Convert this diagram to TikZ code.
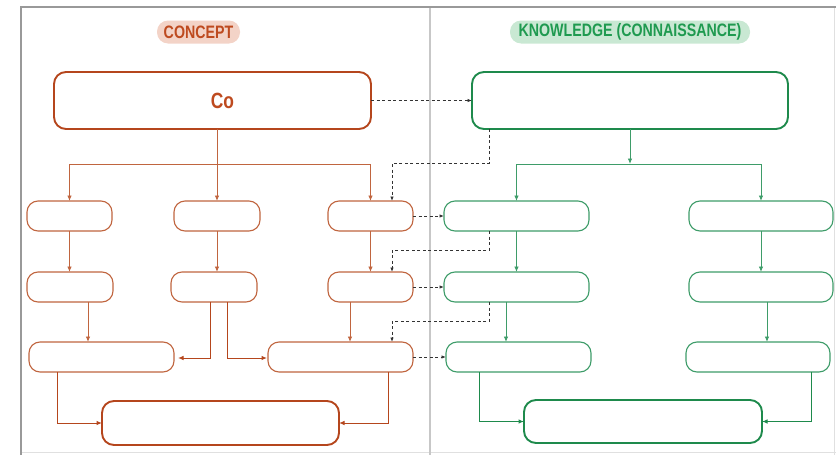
\documentclass[tikz,border=0pt]{standalone}
\usepackage{fontspec}
\newfontfamily\cnd[FakeStretch=0.79]{Liberation Sans}
\usetikzlibrary{arrows.meta}
\definecolor{cdark}{HTML}{B5461D}
\definecolor{cline}{HTML}{C0653F}
\definecolor{cpill}{HTML}{F3D3C7}
\definecolor{ctext}{HTML}{BE4A1F}
\definecolor{kdark}{HTML}{1E8A4C}
\definecolor{kline}{HTML}{3E9C69}
\definecolor{kpill}{HTML}{C9E8D3}
\definecolor{ktext}{HTML}{1F9A50}
\tikzset{
  box/.style={rounded corners=11pt, minimum height=30pt, inner sep=0pt, outer sep=0pt, fill=white},
  cbox/.style={box, draw=cline, line width=1.1pt},
  kbox/.style={box, draw=kline, line width=1.1pt},
  cbig/.style={box, draw=cdark, line width=1.9pt, rounded corners=12pt},
  kbig/.style={box, draw=kdark, line width=1.9pt, rounded corners=12pt},
  tip/.style={-{Latex[length=5.5pt,width=4.5pt]}},
  carrow/.style={draw=cline, line width=0.9pt, tip},
  karrow/.style={draw=kline, line width=0.9pt, tip},
  cthick/.style={draw=cdark, line width=1pt, tip},
  kthick/.style={draw=kdark, line width=1pt, tip},
  link/.style={draw=black!80, line width=0.9pt, dash pattern=on 3pt off 2.5pt,
               -{Latex[length=4.5pt,width=3.5pt]}},
  pill/.style={rounded corners=11pt, minimum height=23pt, inner sep=0pt,
               font=\cnd\bfseries\fontsize{18}{20}\selectfont},
}
\begin{document}
\begin{tikzpicture}[x=1pt,y=-1pt]
\useasboundingbox (0,0) rectangle (836,455);
% frame and column divider
\draw[black!12, line width=1pt] (834,7) -- (834,455);
\draw[black!12, line width=1pt] (21,452.5) -- (836,452.5);
\draw[black!22, line width=1.8pt] (430,7) -- (430,455);
\draw[black!40, line width=1.3pt] (21,455) -- (21,7) -- (836,7);

% column titles
\node[pill, fill=cpill, text=ctext, minimum width=83pt] (tc) at (198.5,32) {CONCEPT};
\node[pill, fill=kpill, text=ktext, minimum width=240pt] (tk) at (630,32) {KNOWLEDGE (CONNAISSANCE)};

% concept column
\node[cbig, minimum width=317pt, minimum height=57pt, text=ctext,
      font=\cnd\bfseries\fontsize{22}{24}\selectfont] (co) at (212.5,100.5) {\hspace*{20pt}Co};
\node[cbox, minimum width=85pt] (L1a) at (69.5,216) {};
\node[cbox, minimum width=86pt] (L1b) at (217,216) {};
\node[cbox, minimum width=85pt] (L1c) at (370.5,216) {};
\node[cbox, minimum width=86pt] (L2a) at (70,287) {};
\node[cbox, minimum width=86pt] (L2b) at (214,287) {};
\node[cbox, minimum width=85pt] (L2c) at (370.5,287) {};
\node[cbox, minimum width=145pt] (L3a) at (101.5,357) {};
\node[cbox, minimum width=145pt] (L3b) at (340.5,357) {};
\node[cbig, minimum width=237pt, minimum height=44pt] (cb) at (220.5,423) {};

% knowledge column
\node[kbig, minimum width=316pt, minimum height=57pt] (k0) at (630,100.5) {};
\node[kbox, minimum width=145pt] (R1a) at (516.5,216) {};
\node[kbox, minimum width=144pt] (R1b) at (761,216) {};
\node[kbox, minimum width=145pt] (R2a) at (516.5,287) {};
\node[kbox, minimum width=144pt] (R2b) at (761,287) {};
\node[kbox, minimum width=145pt] (R3a) at (518.5,357) {};
\node[kbox, minimum width=144pt] (R3b) at (758,357) {};
\node[kbig, minimum width=238pt, minimum height=43pt] (kb) at (643,421.5) {};

% concept connectors
\coordinate (cj) at (217,164);
\draw[carrow] (co.south -| L1b) -- (L1b.north);
\draw[carrow] (cj) -| (L1a.north);
\draw[carrow] (cj) -| (L1c.north);
\draw[carrow] (L1a.south) -- (L1a.south |- L2a.north);
\draw[carrow] (L1b.south) -- (L1b.south |- L2b.north);
\draw[carrow] (L1c.south) -- (L1c.south |- L2c.north);
\draw[carrow] ([xshift=18pt]L2a.south) -- ([xshift=18pt]L2a.south |- L3a.north);
\draw[carrow] ([xshift=-20.5pt]L2c.south) -- ([xshift=-20.5pt]L2c.south |- L3b.north);
\draw[cthick] ([xshift=-4pt]L2b.south) |- ([xshift=4pt,yshift=-1pt]L3a.east);
\draw[cthick] ([xshift=13pt]L2b.south) |- ([xshift=-1pt,yshift=-1pt]L3b.west);
\draw[cthick] ([xshift=-44.5pt]L3a.south) |- (cb.west);
\draw[cthick] ([xshift=47.5pt]L3b.south) |- (cb.east);

% knowledge connectors
\coordinate (kj) at (630,164);
\draw[karrow] (k0.south) -- (kj);
\draw[karrow] (kj) -| (R1a.north);
\draw[karrow] (kj) -| (R1b.north);
\draw[karrow] (R1a.south) -- (R2a.north);
\draw[karrow] (R1b.south) -- (R2b.north);
\draw[karrow] ([xshift=-10.5pt]R2a.south) -- ([xshift=-10.5pt]R2a.south |- R3a.north);
\draw[karrow] ([xshift=6pt]R2b.south) -- ([xshift=6pt]R2b.south |- R3b.north);
\draw[kthick] ([xshift=-39.5pt]R3a.south) |- (kb.west);
\draw[kthick] ([xshift=53pt]R3b.south) |- (kb.east);

% cross links between the columns
\coordinate (d1) at (392,163);
\coordinate (d2) at (392,250);
\coordinate (d3) at (392,321);
\draw[link] (co.east) -- (k0.west);
\draw[link] ([xshift=-141pt]k0.south) |- (d1) -- (d1 |- L1c.north);
\draw[link] ([xshift=-27.5pt]R1a.south) |- (d2) -- (d2 |- L2c.north);
\draw[link] ([xshift=-27.5pt]R2a.south) |- (d3) -- (d3 |- L3b.north);
\draw[link] (L1c.east) -- (R1a.west);
\draw[link] (L2c.east) -- (R2a.west);
\draw[link] (L3b.east) -- (R3a.west);
\end{tikzpicture}
\end{document}
